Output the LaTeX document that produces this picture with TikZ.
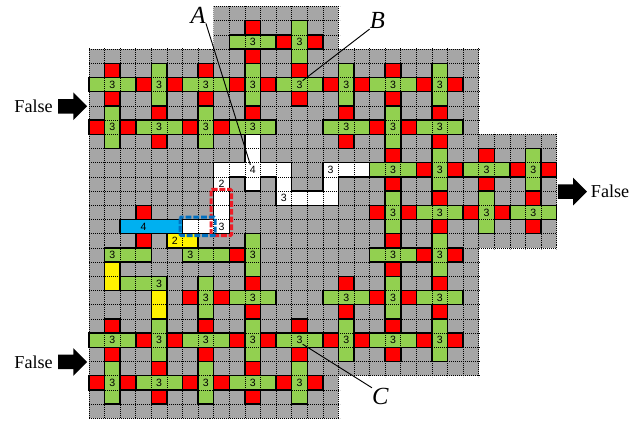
\documentclass[tikz,border=0pt]{standalone}
\usepackage{fontspec}
\setmainfont{Liberation Serif}
\newfontfamily\labelfont{Liberation Sans}
\usetikzlibrary{shapes.arrows}

\definecolor{cellgray}{HTML}{A6A6A6}
\definecolor{wiregreen}{HTML}{92D050}
\definecolor{cellblue}{HTML}{00B0F0}
\definecolor{boxblue}{HTML}{0070C0}
\definecolor{boxred}{HTML}{EE1C25}

\tikzset{
  griddot/.style={black,line width=0.6pt,dash pattern=on 0.85pt off 0.85pt},
  piece/.style={draw=black,line width=1.25pt,line join=miter},
  redcell/.style={piece,fill=red},
  greenwire/.style={piece,fill=wiregreen},
  whitewire/.style={piece,fill=white},
  yellowwire/.style={piece,fill=yellow},
  bluewire/.style={piece,fill=cellblue},
  numlabel/.style={font=\labelfont\fontsize{9}{9}\selectfont,inner sep=0pt},
  falselabel/.style={font=\fontsize{15.5}{15.5}\selectfont,inner sep=0pt},
  letterlabel/.style={font=\fontsize{21}{21}\selectfont,inner sep=0pt},
  leader/.style={black,line width=0.8pt},
  falsearrow/.style={single arrow,fill=black,inner sep=0.21cm,minimum width=0.82cm,minimum height=0.87cm,
    single arrow head extend=0.2cm,single arrow tip angle=90},
  dashbox/.style={line width=2.5pt,dash pattern=on 5pt off 1.6pt,rounded corners=1pt}
}

\begin{document}
\begin{tikzpicture}[x=0.4677cm,y=-0.426cm]
        \useasboundingbox (-5.709,-0.458) rectangle (35.343,29.33);

        % Board
        \fill[cellgray] (8,0) -- (16,0) -- (16,3) -- (25,3) -- (25,9) -- (30,9) -- (30,17) -- (25,17)
          -- (25,26) -- (16,26) -- (16,29) -- (0,29) -- (0,3) -- (8,3) -- cycle;

        % Horizontal wires
        \foreach \c/\r in {9/2,0/5,6/5,12/5,18/5,3/8,9/8,15/8,21/8,18/11,24/11,21/14,27/14,18/17,
            9/20,15/20,21/20,0/23,6/23,12/23,18/23,3/26,9/26}
          \draw[greenwire] (\c,\r) rectangle ++(3,1);
        \draw[greenwire] (1,17) rectangle ++(3,1);
        \draw[greenwire] (6,17) rectangle ++(3,1);
        \draw[greenwire] (2,19) rectangle ++(3,1);

        % Vertical wires
        \foreach \c/\r in {13/1,4/4,10/4,16/4,22/4,1/7,7/7,19/7,22/10,28/10,19/13,25/13,10/16,22/16,
            7/19,19/19,4/22,10/22,16/22,22/22,1/25,7/25,13/25}
          \draw[greenwire] (\c,\r) rectangle ++(1,3);

        % White path
        \draw[whitewire] (10,9) -- (11,9) -- (11,11) -- (13,11) -- (13,13) -- (15,13) -- (15,11) -- (18,11)
          -- (18,12) -- (16,12) -- (16,14) -- (12,14) -- (12,12) -- (11,12) -- (11,13) -- (10,13) -- (10,12)
          -- (9,12) -- (9,16) -- (6,16) -- (6,15) -- (8,15) -- (8,11) -- (10,11) -- cycle;

        % Yellow pieces
        \draw[yellowwire] (5,16) rectangle (7,17);
        \draw[yellowwire] (1,18) rectangle (2,20);
        \draw[yellowwire] (4,20) rectangle (5,22);

        % Grid
        \begin{scope}
          \clip (8,-0.1) -- (16.1,-0.1) -- (16.1,2.9) -- (25.1,2.9) -- (25.1,8.9) -- (30.1,8.9) -- (30.1,17.1)
            -- (25.1,17.1) -- (25.1,26.1) -- (16.1,26.1) -- (16.1,29.1) -- (-0.1,29.1) -- (-0.1,2.9) -- (8,2.9) -- cycle;
          \foreach \i in {0,...,30}
            \draw[griddot] (\i,0) -- (\i,29);
          \foreach \j in {0,...,29}
            \draw[griddot] (0,\j) -- (30,\j);
        \end{scope}

        % Blue piece
        \draw[bluewire] (2,15) rectangle (6,16);

        % Red cells
        \foreach \c/\r in {10/1,12/2,14/2,10/3,1/4,7/4,13/4,19/4,3/5,5/5,9/5,11/5,15/5,17/5,21/5,23/5,
            1/6,7/6,13/6,19/6,4/7,10/7,16/7,22/7,0/8,2/8,6/8,8/8,18/8,20/8,4/9,16/9,22/9,19/10,25/10,
            21/11,23/11,27/11,29/11,19/12,25/12,22/13,28/13,3/14,18/14,20/14,24/14,26/14,22/15,28/15,
            3/16,19/16,9/17,21/17,23/17,19/18,10/19,16/19,22/19,6/20,8/20,18/20,20/20,10/21,16/21,22/21,
            1/22,7/22,13/22,19/22,3/23,5/23,9/23,11/23,15/23,17/23,21/23,23/23,1/24,7/24,13/24,19/24,
            4/25,10/25,0/26,2/26,6/26,8/26,12/26,14/26,4/27,10/27}
          \draw[redcell] (\c,\r) rectangle ++(1,1);

        % Numbers on the wires
        \foreach \c/\r in {10/2,13/2,1/5,4/5,7/5,10/5,13/5,16/5,19/5,22/5,1/8,4/8,7/8,10/8,16/8,19/8,22/8,
            19/11,22/11,25/11,28/11,19/14,22/14,25/14,28/14,1/17,6/17,10/17,19/17,22/17,4/19,7/20,10/20,
            16/20,19/20,22/20,1/23,4/23,7/23,10/23,13/23,16/23,19/23,22/23,1/26,4/26,7/26,10/26,13/26}
          \node[numlabel] (n\c-\r) at (\c+0.5,\r+0.5) {3};
        \node[numlabel] (n8-15) at (8.5,15.5) {3};
        \node[numlabel] (n12-13) at (12.5,13.5) {3};
        \node[numlabel] (n15-11) at (15.5,11.5) {3};
        \node[numlabel] (n10-11) at (10.5,11.5) {4};
        \node[numlabel] (n3-15) at (3.5,15.5) {4};
        \node[numlabel] (n8-12) at (8.5,12.5) {2};
        \node[numlabel] (n5-16) at (5.5,16.5) {2};

        % Dashed boxes
        \draw[dashbox,boxred] (7.83,12.88) rectangle (9.15,16.13);
        \draw[dashbox,boxblue] (5.84,14.83) rectangle (8.1,16.13);

        % Labels and leaders
        \node[letterlabel] (labelA) at (7,0.6) {\textit{A}};
        \node[letterlabel] (labelB) at (18.5,1.0) {\textit{B}};
        \node[letterlabel] (labelC) at (18.7,27.45) {\textit{C}};
        \coordinate (tipA) at (10.35,11.15);
        \draw[leader] (labelA.south east) -- (tipA);
        \draw[leader] (labelB.south west) -- (n13-5.north east);
        \draw[leader] (labelC.north west) -- (n13-23.south east);

        % False arrows
        \node[falsearrow] (arrow1) at (-1.28,7.03) {};
        \node[falselabel,anchor=east] (text1) at (-2.31,7.03) {False};
        \node[falsearrow] (arrow2) at (-1.28,25.03) {};
        \node[falselabel,anchor=east] (text2) at (-2.31,25.03) {False};
        \node[falsearrow] (arrow3) at (30.78,13.03) {};
        \node[falselabel,anchor=west] (text3) at (32.18,13.03) {False};
      \end{tikzpicture}
\end{document}
